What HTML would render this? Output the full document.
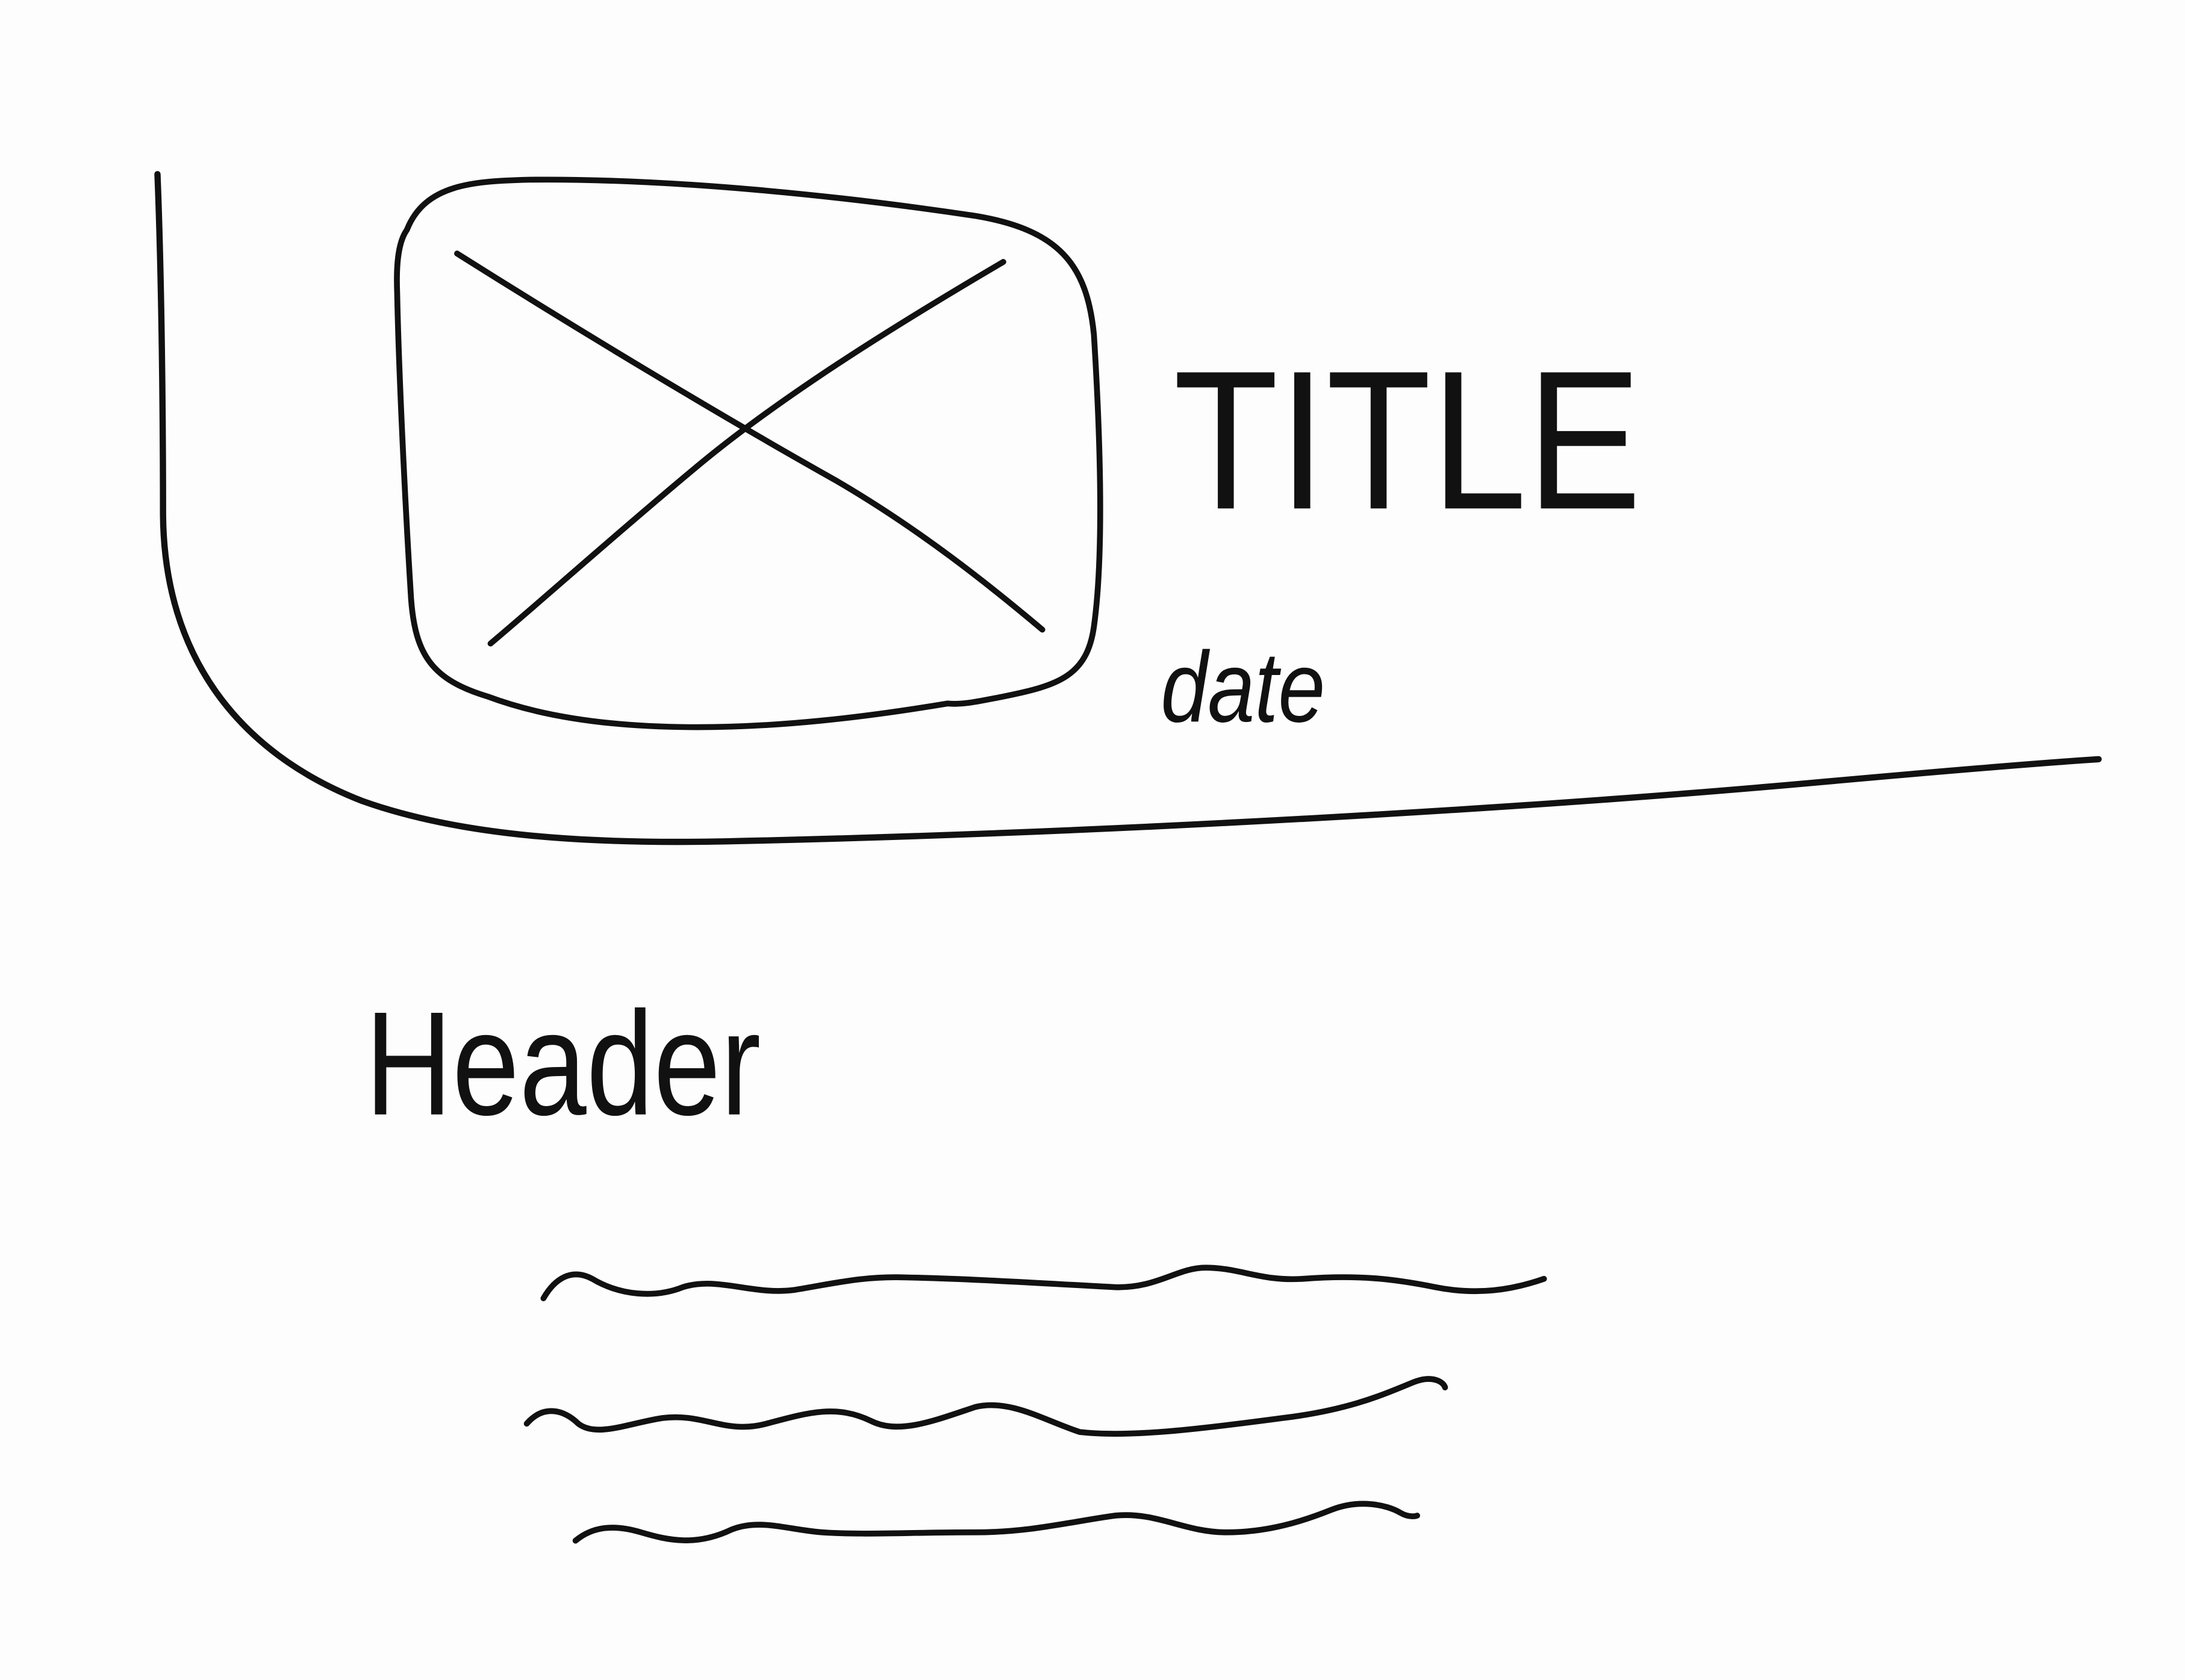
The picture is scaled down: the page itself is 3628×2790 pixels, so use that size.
<!DOCTYPE html>
<html><head><meta charset="utf-8"><style>
html,body{margin:0;padding:0;background:#fff;}
svg{display:block;}
</style></head><body>
<svg width="3628" height="2790" viewBox="0 0 1568 1206" preserveAspectRatio="none" xmlns="http://www.w3.org/2000/svg">
<rect width="1568" height="1206" fill="#fdfdfd"/>
<g fill="none" stroke="#111" stroke-width="4.2" stroke-linecap="round" stroke-linejoin="round">
<path d="M113,125 C116,200 117,300 117,370 C118,470 170,540 260,575 C330,600 420,606 520,604 C800,598 1100,580 1300,562 C1400,553 1460,548 1506,545" stroke-width="4.5"/>
<path d="M292,165 C305,132 340,130 380,129 C480,128 600,140 700,155 C760,165 780,190 785,240 C790,320 792,400 785,450 C780,485 760,492 720,500 C700,504 690,506 680,505 C620,515 560,522 500,522 C440,522 390,515 350,500 C310,488 298,470 295,430 C290,350 286,260 285,210 C284,185 287,172 292,165 Z"/>
<path d="M328,182 C420,240 520,300 600,345 C660,380 710,420 748,452"/>
<path d="M720,188 C640,235 560,285 500,335 C440,385 390,430 352,462"/>
<path d="M390,932 C398,918 410,910 425,918 C445,930 470,932 490,924 C515,916 540,930 570,926 C600,921 620,916 650,917 C700,918 760,922 800,924 C830,925 845,910 865,910 C890,910 905,920 935,918 C975,915 1000,918 1030,924 C1060,930 1085,926 1108,918"/>
<path d="M378,1022 C390,1008 405,1012 415,1022 C428,1032 450,1022 475,1018 C505,1014 520,1030 550,1022 C580,1014 600,1008 625,1020 C645,1030 670,1020 700,1010 C725,1004 750,1020 775,1028 C810,1032 860,1026 920,1018 C970,1012 995,1000 1015,992 C1028,987 1036,992 1037,996"/>
<path d="M413,1106 C425,1096 440,1094 460,1100 C480,1106 500,1110 525,1098 C545,1090 565,1098 590,1100 C620,1102 650,1100 700,1100 C740,1100 770,1092 800,1088 C830,1085 850,1100 880,1100 C910,1100 935,1092 955,1084 C975,1076 995,1080 1005,1086 C1012,1090 1017,1088 1017,1088"/>
</g>
<text x="842" y="365" font-family="Liberation Sans, sans-serif" font-size="142" textLength="336" lengthAdjust="spacingAndGlyphs" fill="#111">TITLE</text>
<text x="833" y="518" font-family="Liberation Sans, sans-serif" font-style="italic" font-size="72" textLength="118" lengthAdjust="spacingAndGlyphs" fill="#111">date</text>
<text x="262" y="800" font-family="Liberation Sans, sans-serif" font-size="106" textLength="284" lengthAdjust="spacingAndGlyphs" fill="#111">Header</text>
</svg>
</body></html>
